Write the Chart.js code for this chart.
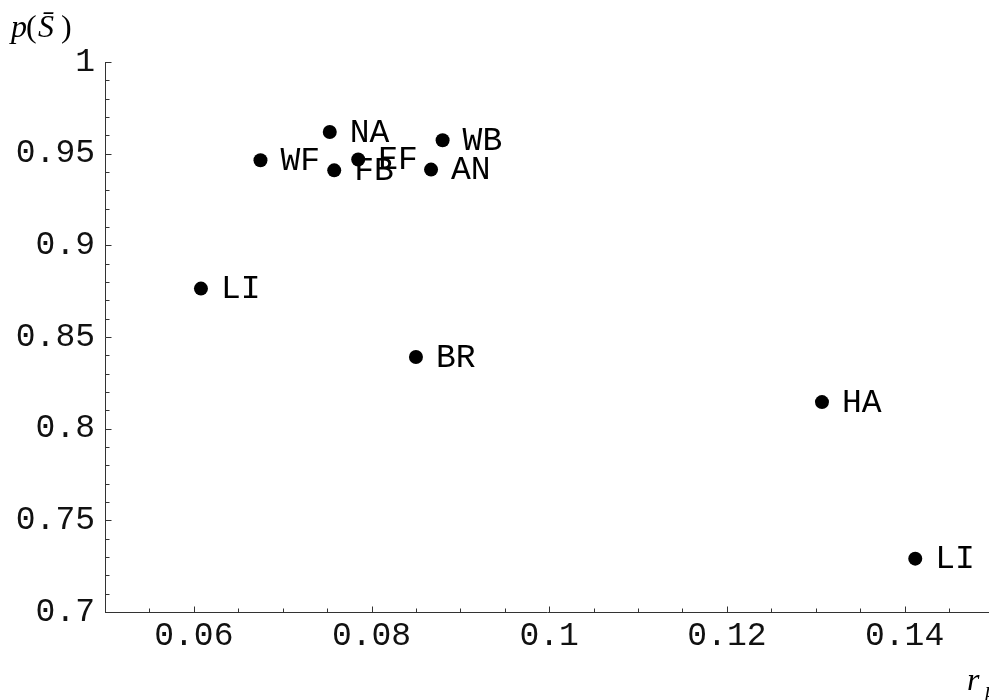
<!DOCTYPE html>
<html><head><meta charset="utf-8">
<script src="https://cdn.jsdelivr.net/npm/chart.js@4"></script>
<style>html,body{margin:0;padding:0;background:#fff;overflow:hidden}#wrap{width:989px;height:700px;position:relative}</style>
</head><body><div id="wrap"><canvas id="c"></canvas></div>
<script>
const pointNames = ["NA","WB","WF","EF","FB","AN","LI","BR","HA","LI"];
const rpValues = [0.0753,0.0880,0.0675,0.0785,0.0758,0.0867,0.0608,0.0850,0.1307,0.1412];
const pValues  = [0.9618,0.9573,0.9464,0.9468,0.9409,0.9413,0.8764,0.8391,0.8145,0.7291];
const xMajorTicks = [0.06,0.08,0.1,0.12,0.14];
const xTickLabels = ["0.06","0.08","0.1","0.12","0.14"];
const xMinorTicks = [0.055,0.065,0.07,0.075,0.085,0.09,0.095,0.105,0.11,0.115,0.125,0.13,0.135,0.145];
const yMajorTicks = [0.7,0.75,0.8,0.85,0.9,0.95,1];
const yTickLabels = ["0.7","0.75","0.8","0.85","0.9","0.95","1"];
const yMinorTicks = [0.71,0.72,0.73,0.74,0.76,0.77,0.78,0.79,0.81,0.82,0.83,0.84,0.86,0.87,0.88,0.89,0.91,0.92,0.93,0.94,0.96,0.97,0.98,0.99];
const xRange = [0.05, 0.1495];
const yRange = [0.7, 1.0];

const AXIS_COLOR = '#333';
const monoFont = '"Liberation Mono", "Courier New", monospace';
const serif = '"Liberation Serif", "Times New Roman", serif';

const tickPlugin = {
  id: 'tickMarks',
  afterDraw(chart) {
    const ctx = chart.ctx, xs = chart.scales.x, ys = chart.scales.y;
    const ca = chart.chartArea;
    ctx.save();
    ctx.strokeStyle = AXIS_COLOR;
    ctx.lineWidth = 1;
    ctx.beginPath();
    const yb = Math.round(ca.bottom) + 0.5, xl = Math.round(ca.left) + 0.5;
    xMajorTicks.forEach(v => { const p = Math.round(xs.getPixelForValue(v)) + 0.5; ctx.moveTo(p, yb); ctx.lineTo(p, yb - 6); });
    xMinorTicks.forEach(v => { const p = Math.round(xs.getPixelForValue(v)) + 0.5; ctx.moveTo(p, yb); ctx.lineTo(p, yb - 4); });
    yMajorTicks.forEach(v => { const p = Math.round(ys.getPixelForValue(v)) + 0.5; ctx.moveTo(xl, p); ctx.lineTo(xl + 6, p); });
    yMinorTicks.forEach(v => { const p = Math.round(ys.getPixelForValue(v)) + 0.5; ctx.moveTo(xl, p); ctx.lineTo(xl + 4, p); });
    ctx.stroke();

    // point labels
    const meta = chart.getDatasetMeta(0);
    ctx.fillStyle = '#000';
    ctx.font = '33px ' + monoFont;
    ctx.textBaseline = 'middle';
    ctx.textAlign = 'left';
    meta.data.forEach((el, i) => { ctx.fillText(pointNames[i], el.x + 20, el.y + 1); });

    // axis titles
    ctx.textBaseline = 'alphabetic';
    ctx.font = 'italic 32px ' + serif; ctx.fillText('p', 11, 37);
    ctx.font = '32px ' + serif; ctx.fillText('(', 26, 37);
    ctx.font = 'italic 32px ' + serif; ctx.fillText('S\u0304', 38, 37);
    ctx.font = '32px ' + serif; ctx.fillText(')', 61, 37);
    ctx.font = 'italic 32px ' + serif;
    ctx.fillText('r', 967, 690);
    ctx.font = 'italic 22px ' + serif;
    ctx.fillText('p', 985, 697);
    ctx.restore();
  }
};

new Chart(document.getElementById('c'), {
  type: 'scatter',
  data: { datasets: [{
    data: rpValues.map((v, i) => ({ x: v, y: pValues[i] })),
    backgroundColor: '#000', borderWidth: 0, pointRadius: 7, pointHoverRadius: 7
  }]},
  options: {
    responsive: true, maintainAspectRatio: false, animation: false,
    layout: { autoPadding: false, padding: { top: 62, right: 0, bottom: 0, left: 0 } },
    plugins: { legend: { display: false }, tooltip: { enabled: false } },
    scales: {
      x: {
        type: 'linear', min: xRange[0], max: xRange[1],
        grid: { display: false, drawTicks: false },
        border: { display: true, color: AXIS_COLOR, width: 1 },
        afterBuildTicks: s => { s.ticks = xMajorTicks.map(v => ({ value: v })); },
        afterFit: s => { s.height = 88; s.paddingLeft = 0; s.paddingRight = 0; },
        ticks: { autoSkip: false, maxRotation: 0, padding: 4, color: '#111',
          font: { family: monoFont, size: 33 },
          callback: (v) => { const i = xMajorTicks.findIndex(t => Math.abs(t - v) < 1e-9); return i >= 0 ? xTickLabels[i] : ''; } }
      },
      y: {
        type: 'linear', min: yRange[0], max: yRange[1],
        grid: { display: false, drawTicks: false },
        border: { display: true, color: AXIS_COLOR, width: 1 },
        afterBuildTicks: s => { s.ticks = yMajorTicks.map(v => ({ value: v })); },
        afterFit: s => { s.width = 105; s.paddingTop = 0; s.paddingBottom = 0; },
        ticks: { autoSkip: false, padding: 10, color: '#111',
          font: { family: monoFont, size: 33 },
          callback: (v) => { const i = yMajorTicks.findIndex(t => Math.abs(t - v) < 1e-9); return i >= 0 ? yTickLabels[i] : ''; } }
      }
    }
  },
  plugins: [tickPlugin]
});
</script></body></html>
